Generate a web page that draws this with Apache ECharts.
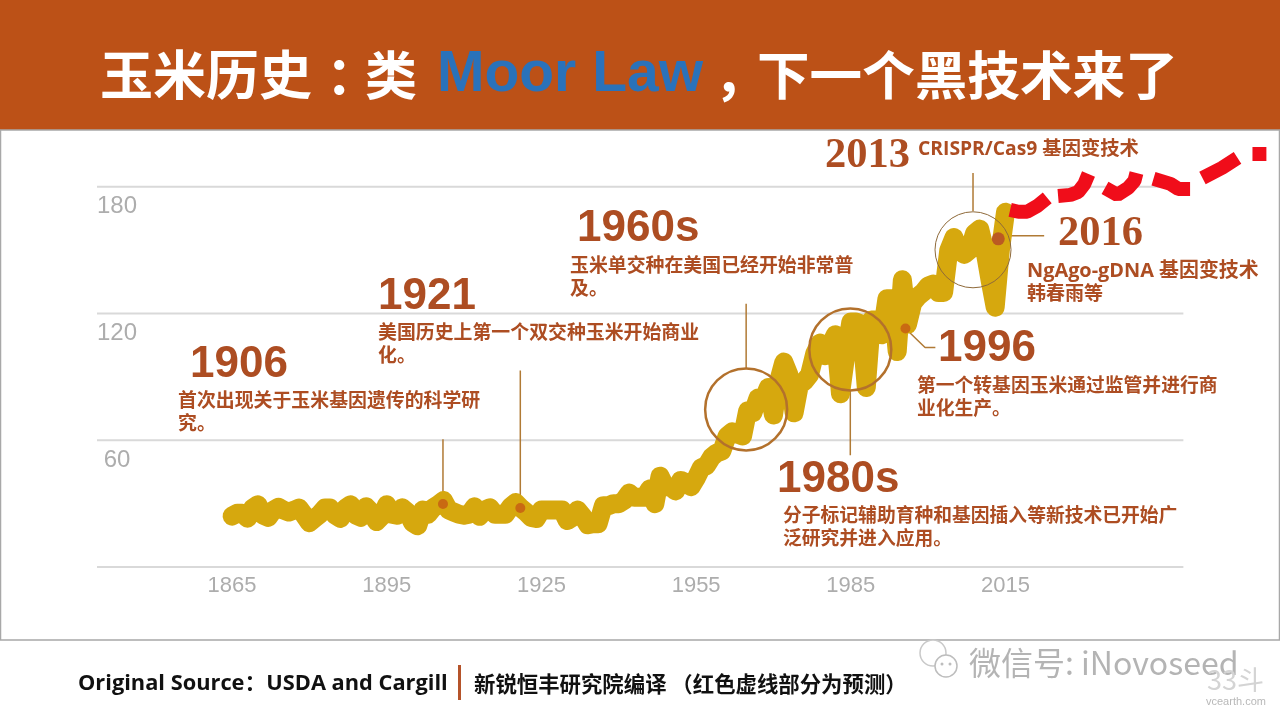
<!DOCTYPE html>
<html>
<head>
<meta charset="utf-8">
<title>玉米历史</title>
<script src="https://cdn.jsdelivr.net/npm/echarts@6/dist/echarts.min.js"></script>
<style>
html, body { margin: 0; padding: 0; background: #fff; }
#Chart { width: 1280px; height: 720px; }
</style>
</head>
<body>
<div id="Chart"></div>
<script>
// yield by year, first value is 1865
var firstYear = 1865;
var yields = [
    24.1, 25.5, 25.5, 23.1, 27.9, 29.5, 24.6, 23.5, 26.9, 28.3,
    26.9, 26, 26.9, 27.9, 24.6, 21, 23.1, 25, 27.9, 27.9,
    24.6, 23, 27.9, 29.5, 24.6, 23.5, 28.5, 26, 21.5, 24,
    29.5, 25, 24.5, 28, 26, 21, 19.5, 27, 25, 28,
    29.5, 31.5, 27, 26, 25, 24.5, 25, 28.5, 24, 27,
    28, 25, 25, 25, 28.5, 30.5, 28, 26, 23.5, 23,
    27, 27, 27, 27, 27, 22, 23.5, 27, 24, 20,
    20.5, 20.5, 29, 29, 30, 30, 31.5, 35, 33, 33,
    33, 37, 30, 43, 38, 38, 36, 41, 40, 38,
    42, 47, 48, 52, 54, 55, 62, 64, 63, 62,
    74, 73, 80, 79, 85, 72, 88, 97, 91, 73,
    86, 88, 91, 101, 106, 100, 105, 110, 82, 100,
    116, 116, 115, 85, 117, 117, 110, 127, 127, 102,
    136, 115, 125, 128, 130, 133, 134, 130, 130, 150,
    156, 150, 148, 150, 158, 160, 150, 136, 123, 150,
    168
];

// red hand drawn forecast, null breaks the dashes
var forecastYears = [
    2015.9, 2017.5, 2019.2, 2021.2, 2023.1, 2024,
    2025.2, 2027.6, 2029.1, 2030.3, 2031.1, 2032,
    2034.3, 2036.7, 2038.8, 2040, 2040.4, 2042,
    2043.7, 2047, 2048.5, 2050.8, 2052,
    2053.2, 2057, 2060, 2061,
    2062.9, 2065.6
];
var forecastValues = [
    169.1, 168.2, 168.2, 171, 174.8, null,
    175.7, 176.2, 177.6, 181.4, 186.1, null,
    179.5, 176.2, 179.5, 182.8, 186.6, null,
    183.8, 181.4, 179, 179, null,
    184.2, 189, 193.7, null,
    195.6, 195.6
];

var xTicks = [1865, 1895, 1925, 1955, 1985, 2015];
var yTicks = [60, 120, 180];

// gridlines stop short of the forecast
var gridYears = [1838.8, 2049.5, null, 1838.8, 2049.5, null, 1838.8, 2049.5, null, 1838.8, 2049.5];
var gridValues = [0, 0, null, 60, 60, null, 120, 120, null, 180, 180];

// milestone dots, circles and leader lines
var dotYears = [1905.9, 1920.9, 1995.6];
var dotValues = [29.8, 27.9, 112.9];
var bigDotYears = [2013.6];
var bigDotValues = [155.4];
var circleYears = [1964.7, 1984.9];
var circleValues = [74.6, 103];
var thinCircleYears = [2008.7];
var thinCircleValues = [150.2];
var stemYears = [1905.9, 1905.9, null, 1920.9, 1920.9, null, 1964.7, 1964.7, null, 1984.9, 1984.9, null, 2008.7, 2008.7, null, 1995.6, 1999.4, 2001.4, null, 2015.5, 2022.5];
var stemValues = [60.5, 29.8, null, 93, 27.9, null, 124.7, 94, null, 83.6, 52.9, null, 186.6, 168.6, null, 112.9, 103.9, 103.9, null, 156.8, 156.8];

function zip(xs, ys) {
    return xs.map(function (x, i) { return [x, ys[i]]; });
}

var yieldData = yields.map(function (v, i) { return [firstYear + i, v]; });

var BROWN = '#ad4d22';
var CJK = '"Noto Sans CJK SC", sans-serif';
var LATIN = '"Open Sans", "Noto Sans CJK SC", sans-serif';
var HEAD = '"Liberation Sans", sans-serif';
var SERIF = '"Liberation Serif", serif';

function label(x, y, text, size, family, color, weight) {
    return {
        type: 'text', x: x, y: y, z: 20,
        style: {
            text: text, fontSize: size, fontFamily: family || CJK,
            fontWeight: weight || 'bold', fill: color || BROWN,
            align: 'left', verticalAlign: 'middle'
        }
    };
}

var Chart = echarts.init(document.getElementById('Chart'), null, { renderer: 'canvas' });

var ChartOption = {
    animation: false,
    backgroundColor: '#ffffff',
    grid: { left: 97, right: 10, top: 123.5, bottom: 153 },
    xAxis: {
        type: 'value', min: 1838.8, max: 2066.3,
        axisLine: { show: false },
        axisTick: { show: false },
        splitLine: { show: false },
        axisLabel: {
            customValues: xTicks, color: '#adadad', fontSize: 22, margin: 8,
            fontFamily: HEAD,
            formatter: function (v) { return String(v); }
        }
    },
    yAxis: {
        type: 'value', min: 0, max: 210, interval: 60,
        axisLine: { show: false },
        axisTick: { show: false },
        splitLine: { show: false },
        axisLabel: {
            customValues: yTicks, inside: true, margin: 20, align: 'center',
            verticalAlign: 'top', padding: [8, 0, 0, 0],
            color: '#adadad', fontSize: 24,
            fontFamily: HEAD
        }
    },
    series: [
        {
            name: 'grid', type: 'line', data: zip(gridYears, gridValues), showSymbol: false,
            connectNulls: false, z: 1, silent: true,
            lineStyle: { color: '#d9d9d9', width: 2 }
        },
        {
            name: 'yield', type: 'line', data: yieldData, showSymbol: false, z: 3, clip: false,
            lineStyle: { color: '#d6a80e', width: 19, cap: 'round', join: 'round' }
        },
        {
            name: 'forecast', type: 'line', data: zip(forecastYears, forecastValues),
            showSymbol: false, clip: false, connectNulls: false, z: 4,
            lineStyle: { color: '#f00d1a', width: 14, join: 'bevel' }
        },
        {
            name: 'stems', type: 'line', data: zip(stemYears, stemValues),
            showSymbol: false, clip: false, connectNulls: false, z: 2,
            lineStyle: { color: '#b07a35', width: 1.5 }
        },
        {
            name: 'dots', type: 'scatter', data: zip(dotYears, dotValues), symbolSize: 10, z: 6,
            itemStyle: { color: '#c96a12', opacity: 1 }
        },
        {
            name: 'bigDots', type: 'scatter', data: zip(bigDotYears, bigDotValues), symbolSize: 13, z: 6,
            clip: false,
            itemStyle: { color: '#bb5a22', opacity: 1 }
        },
        {
            name: 'circles', type: 'scatter', data: zip(circleYears, circleValues), symbolSize: 82, z: 7,
            itemStyle: { color: 'rgba(0,0,0,0)', borderColor: '#b3712c', borderWidth: 2.5, opacity: 1 }
        },
        {
            name: 'thinCircles', type: 'scatter', data: zip(thinCircleYears, thinCircleValues), symbolSize: 76, z: 7,
            itemStyle: { color: 'rgba(0,0,0,0)', borderColor: '#8f6a3a', borderWidth: 1, opacity: 1 }
        }
    ],
    graphic: [
        // title band, panel and footer
        { type: 'rect', shape: { x: 0, y: 0, width: 1280, height: 130 }, style: { fill: '#bc5117' }, z: 1 },
        { type: 'rect', shape: { x: 0.5, y: 130, width: 1279, height: 510 }, style: { fill: 'none', stroke: '#a8a8a8', lineWidth: 1.5 }, z: 1 },
        label(100, 75, '玉米历史', 53, CJK, '#ffffff', 'bold'),
        label(326, 75, '：', 53, CJK, '#ffffff', 'bold'),
        label(365, 75, '类', 52, CJK, '#ffffff', 'bold'),
        label(437, 75, 'Moor Law', 57, HEAD, '#2a72ba', 'bold'),
        label(714, 75, '，', 53, CJK, '#ffffff', 'bold'),
        label(757, 75, '下一个黑技术来了', 52.6, CJK, '#ffffff', 'bold'),

        label(190, 365, '1906', 44, HEAD),
        label(178, 400, '首次出现关于玉米基因遗传的科学研', 18.9),
        label(178, 423, '究。', 18.9),
        label(378, 297, '1921', 44, HEAD),
        label(378, 332, '美国历史上第一个双交种玉米开始商业', 18.9),
        label(378, 355, '化。', 18.9),
        label(577, 229, '1960s', 44, HEAD),
        label(570, 265, '玉米单交种在美国已经开始非常普', 18.9),
        label(570, 288, '及。', 18.9),
        label(777, 480, '1980s', 44, HEAD),
        label(783, 515, '分子标记辅助育种和基因插入等新技术已开始广', 18.8),
        label(783, 538, '泛研究并进入应用。', 18.8),
        label(938, 349, '1996', 44, HEAD),
        label(917, 385, '第一个转基因玉米通过监管并进行商', 18.8),
        label(917, 408, '业化生产。', 18.8),
        label(825, 156, '2013', 42.5, SERIF),
        label(918, 150, 'CRISPR/Cas9 基因变技术', 19.3, LATIN),
        label(1058, 234, '2016', 42.5, SERIF),
        label(1027, 271, 'NgAgo-gDNA 基因变技术', 19.9, LATIN),
        label(1027, 293, '韩春雨等', 19),

        label(78, 684, 'Original Source：USDA and Cargill', 21.8, LATIN, '#111111'),
        { type: 'rect', shape: { x: 458, y: 665, width: 3, height: 35 }, style: { fill: '#b5532a' }, z: 5 },
        label(474, 684, '新锐恒丰研究院编译 （红色虚线部分为预测）', 21.4, CJK, '#111111'),

        // watermark
        { type: 'circle', shape: { cx: 933, cy: 653, r: 13 }, style: { fill: '#ffffff', stroke: '#c9c9c9', lineWidth: 1.5 }, z: 5 },
        { type: 'circle', shape: { cx: 946, cy: 666, r: 11 }, style: { fill: '#ffffff', stroke: '#bdbdbd', lineWidth: 1.5 }, z: 5 },
        { type: 'circle', shape: { cx: 942, cy: 664, r: 1.5 }, style: { fill: '#bdbdbd' }, z: 6 },
        { type: 'circle', shape: { cx: 950, cy: 664, r: 1.5 }, style: { fill: '#bdbdbd' }, z: 6 },
        label(969, 663, '微信号: iNovoseed', 32, CJK, '#b4b4b4', 'normal'),
        label(1207, 680, '33斗', 27, CJK, '#d4d4d4', 'normal'),
        label(1206, 702, 'vcearth.com', 11, HEAD, '#b8b8b8', 'normal')
    ]
};

Chart.setOption(ChartOption);
window.addEventListener("resize", function () {
    Chart.resize();
});
</script>
</body>
</html>
